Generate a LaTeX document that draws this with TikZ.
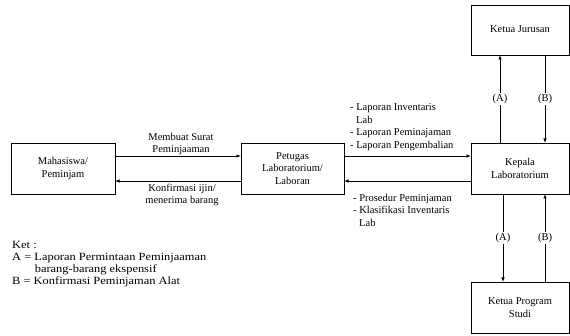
\documentclass[tikz,border=0pt]{standalone}
\usepackage{fontspec}
\setmainfont{Liberation Serif}
\usetikzlibrary{arrows.meta}
\begin{document}
\begin{tikzpicture}[x=1pt,y=-1pt,
  box/.style={draw,line width=0.8pt,inner sep=0pt},
  lbl/.style={font=\fontsize{10.5}{12.5}\selectfont,inner sep=0pt},
  conn/.style={line width=0.8pt,-{Latex[length=4.5pt,width=3.5pt]}},
  ab/.style={lbl,fill=white,inner sep=1.5pt}]
\useasboundingbox (0,0) rectangle (570,336);
\fill[white] (0,0) rectangle (570,336);
% boxes
\draw[box] (11,143) rectangle (115,194);
\node[lbl,align=center] (mhs) at (63,168.5) {Mahasiswa/\\Peminjam};
\draw[box] (241,143) rectangle (344,194);
\node[lbl,align=center] (ptg) at (292.5,168.5) {Petugas\\Laboratorium/\\Laboran};
\draw[box] (471,143) rectangle (569.5,194);
\node[lbl,align=center] (kpl) at (520,168.5) {Kepala\\Laboratorium};
\draw[box] (471,5) rectangle (569.5,55);
\node[lbl] (kj) at (520,29.5) {Ketua Jurusan};
\draw[box] (471,282) rectangle (569.5,333);
\node[lbl,align=center] (kps) at (520,307.5) {Ketua Program\\Studi};
% coordinates on box edges
\coordinate (m1) at (115,156); \coordinate (p1) at (241,156);
\coordinate (m2) at (115,181); \coordinate (p2) at (241,181);
\coordinate (p3) at (344,156); \coordinate (k3) at (471,156);
\coordinate (p4) at (344,181); \coordinate (k4) at (471,181);
\coordinate (kT1) at (500,143); \coordinate (jB1) at (500,55);
\coordinate (kT2) at (545,143); \coordinate (jB2) at (545,55);
\coordinate (kB1) at (503,194); \coordinate (sT1) at (503,282);
\coordinate (kB2) at (545,194); \coordinate (sT2) at (545,282);
% horizontal connectors
\draw[conn] (m1) -- (p1);
\draw[conn] (p2) -- (m2);
\draw[conn] (p3) -- (k3);
\draw[conn] (k4) -- (p4);
% vertical connectors
\draw[conn] (kT1) -- node[ab,pos=0.5] {(A)} (jB1);
\draw[conn] (jB2) -- node[ab,pos=0.5] {(B)} (kT2);
\draw[conn] (kB1) -- node[ab,pos=0.5] {(A)} (sT1);
\draw[conn] (sT2) -- node[ab,pos=0.5] {(B)} (kB2);
% labels
\node[lbl,align=center] (t1) at (181,144) {Membuat Surat\\Peminjaaman};
\node[lbl,align=center] (t2) at (182,195) {Konfirmasi ijin/\\menerima barang};
\node[lbl,align=left,anchor=north west] (t3) at (350,103.5) {- Laporan Inventaris\\\hspace*{6pt}Lab\\- Laporan Peminajaman\\- Laporan Pengembalian};
\node[lbl,align=left,anchor=north west] (t4) at (353,194) {- Prosedur Peminjaman\\- Klasifikasi Inventaris\\\hspace*{6pt}Lab};
\node[lbl,font=\fontsize{11}{12}\selectfont,xscale=1.13,align=left,anchor=north west] (ket) at (12,241) {Ket :\\A = Laporan Permintaan Peminjaaman\\\hspace*{20pt}barang-barang ekspensif\\B = Konfirmasi Peminjaman Alat};
\end{tikzpicture}
\end{document}
